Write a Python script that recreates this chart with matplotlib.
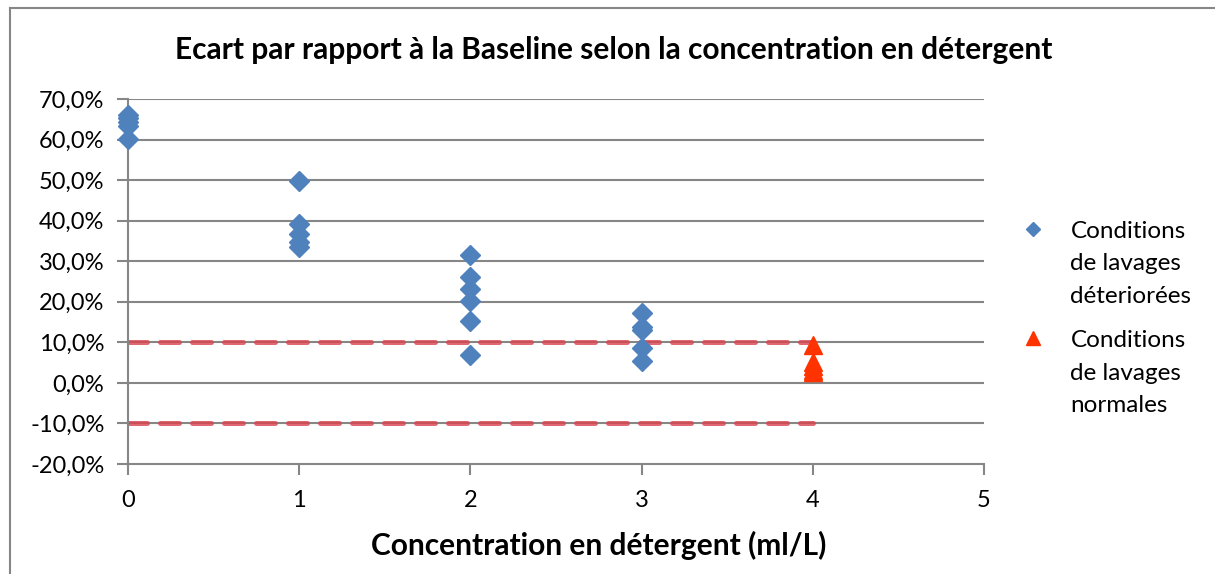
import matplotlib.pyplot as plt
from matplotlib.legend_handler import HandlerLine2D
from matplotlib.lines import Line2D
from matplotlib.ticker import FuncFormatter

plt.rcParams["font.family"] = ["Lato", "DejaVu Sans"]

# données (écart en %)
conc_det = [0, 0, 0, 0, 0,
            1, 1, 1, 1, 1,
            2, 2, 2, 2, 2, 2,
            3, 3, 3, 3, 3]
ecart_det = [66.1, 65.2, 64.3, 63.4, 60.2,
             49.8, 39.3, 36.6, 34.7, 33.5,
             31.6, 26.1, 23.2, 20.1, 15.3, 6.8,
             17.3, 13.8, 13.0, 8.6, 5.4]
conc_norm = [4, 4, 4, 4, 4]
ecart_norm = [9.4, 5.2, 4.2, 3.3, 2.7]

# limites +/-10 %
limite_x = [0, 4]
limite_haut = [10, 10]
limite_bas = [-10, -10]

y_ticks = list(range(-20, 71, 10))
x_ticks = [0, 1, 2, 3, 4, 5]

bleu = "#4F81BD"
rouge = "#FF3300"
gris = "#868686"


class HandlerHaut(HandlerLine2D):
    # marqueur aligné sur la première ligne du libellé
    def create_artists(self, legend, orig_handle, xdescent, ydescent, width, height, fontsize, trans):
        arts = super().create_artists(legend, orig_handle, xdescent, ydescent, width, height, fontsize, trans)
        for a in arts:
            a.set_ydata([y + 25.4 for y in a.get_ydata()])
        return arts


fig = plt.figure(figsize=(12.15, 5.74), dpi=100)
ax = fig.add_axes([128 / 1215, 1 - 464 / 574, 856 / 1215, 365 / 574])

# cadre du graphique (gauche et haut)
fig.add_artist(Line2D([10 / 1215, 10 / 1215], [0, 1 - 8 / 574], color=gris, lw=1.5,
                      transform=fig.transFigure))
fig.add_artist(Line2D([10 / 1215, 1], [1 - 8 / 574, 1 - 8 / 574], color=gris, lw=1.5,
                      transform=fig.transFigure))

for yv in y_ticks[1:]:
    ax.axhline(yv, color=gris, lw=1.5, zorder=0)

dash = dict(color="#d9434e", alpha=0.8, lw=3.6, linestyle=(0, (3.8, 2.6)),
            dash_capstyle="round", zorder=1)
ax.plot(limite_x, limite_haut, **dash)
ax.plot(limite_x, limite_bas, **dash)

h1, = ax.plot(conc_det, ecart_det, linestyle="none", marker="D", ms=10, color=bleu,
              mec=bleu, label="Conditions\nde lavages\ndéteriorées", zorder=3, clip_on=False)
h2, = ax.plot(conc_norm, ecart_norm, linestyle="none", marker="^", ms=12.5, color=rouge,
              mec=rouge, label="Conditions\nde lavages\nnormales", zorder=3, clip_on=False)

ax.set_xlim(0, 5)
ax.set_ylim(-20, 70)
ax.set_xticks(x_ticks)
ax.set_yticks(y_ticks)
ax.yaxis.set_major_formatter(FuncFormatter(lambda v, p: f"{v:.1f}%".replace(".", ",")))
for s in ["top", "right"]:
    ax.spines[s].set_visible(False)
for s in ["left", "bottom"]:
    ax.spines[s].set_color(gris)
    ax.spines[s].set_linewidth(1.5)
ax.tick_params(axis="both", color=gris, width=1.5, length=8, labelsize=17)
ax.tick_params(axis="y", pad=9)
ax.tick_params(axis="x", pad=11)

fig.text(614 / 1215, 1 - 50 / 574, "Ecart par rapport à la Baseline selon la concentration en détergent",
         ha="center", va="center", fontsize=21.5, fontweight="bold")
fig.text(599 / 1215, 1 - 545 / 574, "Concentration en détergent (ml/L)",
         ha="center", va="center", fontsize=21.5, fontweight="bold")

leg = fig.legend(handles=[h1, h2], loc="upper left", bbox_to_anchor=(998 / 1215, 1 - 199 / 574),
                 frameon=False, fontsize=17.5, handletextpad=1.04, labelspacing=0.95,
                 handlelength=1.04, markerscale=0.75,
                 handler_map={Line2D: HandlerHaut()})
for t in leg.get_texts():
    t.set_linespacing(1.68)

fig.savefig("out.png", dpi=100)
